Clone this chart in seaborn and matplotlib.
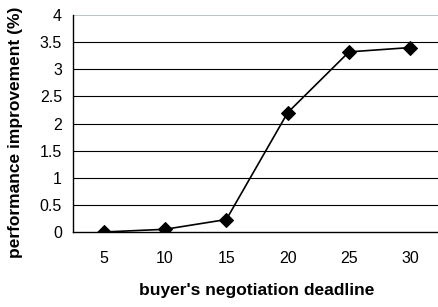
import matplotlib
matplotlib.use("Agg")
import matplotlib.pyplot as plt
import seaborn as sns
import pandas as pd

# values
deadlines = ["5", "10", "15", "20", "25", "30"]
improvement = [0.0, 0.05, 0.23, 2.2, 3.32, 3.4]

df = pd.DataFrame({"pos": range(len(deadlines)), "imp": improvement})

sns.set_style("white")
plt.rcParams["font.family"] = ["Liberation Sans", "DejaVu Sans"]
plt.rcParams.update({"text.color": "black", "axes.labelcolor": "black",
                     "xtick.color": "black", "ytick.color": "black"})

fig = plt.figure(figsize=(4.39, 3.07), dpi=100)
ax = fig.add_axes([73 / 439, 1 - 232 / 307, (441 - 73) / 439, (232 - 15) / 307])

sns.lineplot(data=df, x="pos", y="imp", ax=ax, color="black", linewidth=1.2,
             marker="D", markersize=7, markeredgecolor="black", zorder=3)

ax.set_xlim(-0.5, len(deadlines) - 0.5)
ax.set_ylim(0, 4)
ax.set_yticks([0, 0.5, 1, 1.5, 2, 2.5, 3, 3.5, 4])
ax.set_yticklabels(["0", "0.5", "1", "1.5", "2", "2.5", "3", "3.5", "4"])

# category labels in the middle, tick marks between categories
ax.set_xticks(range(len(deadlines)))
ax.set_xticklabels(deadlines)
ax.set_xticks([i - 0.5 for i in range(len(deadlines) + 1)], minor=True)
ax.tick_params(axis="x", which="major", length=0, pad=14, labelsize=11.5)
ax.tick_params(axis="x", which="minor", length=5, width=1, color="black", direction="out")
ax.tick_params(axis="y", length=5, width=1, color="black", direction="out", pad=3, labelsize=11.5)

for y in [0.5, 1, 1.5, 2, 2.5, 3, 3.5]:
    ax.axhline(y, color="black", linewidth=0.8, zorder=1)
ax.axhline(4, color="#a9bcc4", linewidth=1.2, zorder=1)

for s in ["top", "right"]:
    ax.spines[s].set_visible(False)
for s in ["left", "bottom"]:
    ax.spines[s].set_color("black")
    ax.spines[s].set_linewidth(1)

ax.set_xlabel("buyer's negotiation deadline", fontsize=12.5, fontweight="bold", labelpad=12)
ax.set_ylabel("performance improvement (%)", fontsize=12.5, fontweight="bold")
ax.yaxis.set_label_coords(-0.135, 0.46)

fig.savefig("out.png", dpi=100)
